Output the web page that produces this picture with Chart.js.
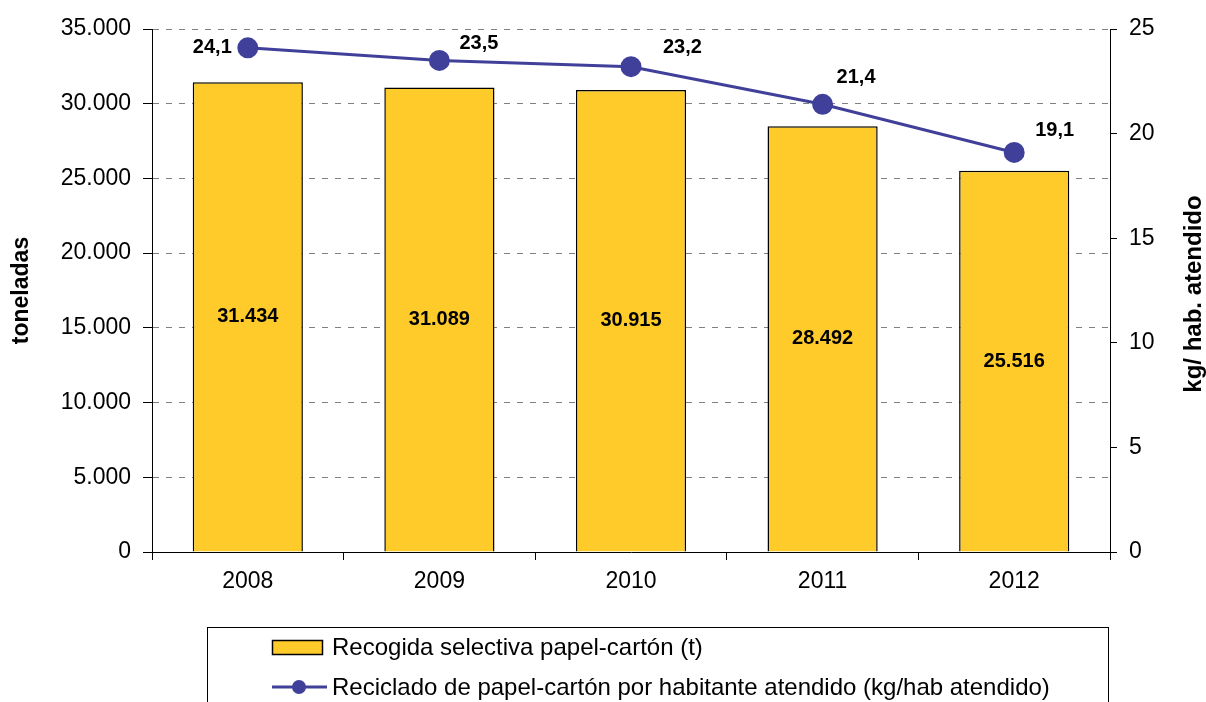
<!DOCTYPE html>
<html>
<head>
<meta charset="utf-8">
<script src="https://cdn.jsdelivr.net/npm/chart.js@4/dist/chart.umd.min.js"></script>
<style>
  html, body { margin: 0; padding: 0; background: #fff; }
  #wrap { width: 1206px; height: 702px; }
</style>
</head>
<body>
<div id="wrap"><canvas id="grafico"></canvas></div>
<script>
// datos
var years = ["2008", "2009", "2010", "2011", "2012"];
var toneladas = [31434, 31089, 30915, 28492, 25516];
var kgHab = [24.1, 23.5, 23.2, 21.4, 19.1];
var serieBarras = "Recogida selectiva papel-cartón (t)";
var serieLinea = "Reciclado de papel-cartón por habitante atendido (kg/hab atendido)";

var amarillo = "#FFCB2B";
var azul = "#40409A";
var fuente = "'Liberation Sans', Arial, sans-serif";

function miles(n) {
  return String(n).replace(/\B(?=(\d{3})+(?!\d))/g, ".");
}
function coma(n) {
  return n.toFixed(1).replace(".", ",");
}

// desplazamiento de las etiquetas de la linea [dx, dy, align]
var offLinea = [[-16, 0, "right"], [20, -17, "left"], [32, -19, "left"], [14, -27, "left"], [21, -22, "left"]];

var etiquetas = {
  id: "etiquetas",
  afterDatasetsDraw: function(chart) {
    var ctx = chart.ctx;
    ctx.save();
    ctx.fillStyle = "#000";
    ctx.font = "bold 20px " + fuente;
    ctx.textBaseline = "middle";
    var mb = chart.getDatasetMeta(0);
    mb.data.forEach(function(bar, i) {
      ctx.textAlign = "center";
      ctx.fillText(miles(toneladas[i]), bar.x, (bar.y + bar.base) / 2);
    });
    var ml = chart.getDatasetMeta(1);
    ml.data.forEach(function(pt, i) {
      var o = offLinea[i];
      ctx.textAlign = o[2];
      ctx.fillText(coma(kgHab[i]), pt.x + o[0], pt.y + o[1]);
    });
    ctx.restore();
  },
  afterDraw: function(chart) {
    var ctx = chart.ctx;
    ctx.save();
    // titulo eje derecho
    ctx.font = "bold 24px " + fuente;
    ctx.fillStyle = "#000";
    ctx.textAlign = "center";
    ctx.textBaseline = "middle";
    ctx.translate(1194, 294);
    ctx.rotate(-Math.PI / 2);
    ctx.fillText("kg/ hab. atendido", 0, 0);
    ctx.restore();

    // leyenda
    ctx.save();
    ctx.strokeStyle = "#000";
    ctx.lineWidth = 1;
    ctx.strokeRect(207.5, 627.5, 901, 90);
    ctx.fillStyle = amarillo;
    ctx.fillRect(272.5, 640.5, 50, 14);
    ctx.strokeStyle = "#000";
    ctx.lineWidth = 1.5;
    ctx.strokeRect(272.5, 640.5, 50, 14);
    ctx.strokeStyle = azul;
    ctx.lineWidth = 3;
    ctx.beginPath();
    ctx.moveTo(272, 687);
    ctx.lineTo(327, 687);
    ctx.stroke();
    ctx.fillStyle = azul;
    ctx.beginPath();
    ctx.arc(299, 687, 7, 0, Math.PI * 2);
    ctx.fill();
    ctx.fillStyle = "#000";
    ctx.font = "24px " + fuente;
    ctx.textAlign = "left";
    ctx.textBaseline = "middle";
    ctx.fillText(chart.data.datasets[0].label, 332, 648);
    ctx.fillText(chart.data.datasets[1].label, 332, 688);
    ctx.restore();
  }
};

var ctx = document.getElementById("grafico").getContext("2d");
var grafico = new Chart(ctx, {
  type: "bar",
  data: {
    labels: years,
    datasets: [
      {
        type: "bar",
        label: serieBarras,
        data: toneladas,
        yAxisID: "y",
        backgroundColor: amarillo,
        borderColor: "#000",
        borderWidth: 1.5,
        barPercentage: 0.575,
        categoryPercentage: 1,
        order: 2
      },
      {
        type: "line",
        label: serieLinea,
        data: kgHab,
        yAxisID: "y1",
        borderColor: azul,
        backgroundColor: azul,
        borderWidth: 3,
        pointRadius: 9,
        pointHoverRadius: 9,
        tension: 0,
        order: 1
      }
    ]
  },
  options: {
    responsive: true,
    maintainAspectRatio: false,
    animation: false,
    layout: { padding: { top: 29, left: 0, right: 0, bottom: 0 } },
    plugins: {
      legend: { display: false },
      tooltip: { enabled: false }
    },
    scales: {
      x: {
        offset: true,
        grid: { display: true, offset: true, drawOnChartArea: false, color: "#000", tickLength: 8 },
        border: { color: "#000", width: 1 },
        ticks: { color: "#000", font: { family: fuente, size: 23 }, padding: 8 },
        afterFit: function(s) { s.height = 150; }
      },
      y: {
        position: "left",
        min: 0,
        max: 35000,
        ticks: {
          stepSize: 5000,
          color: "#000",
          padding: 12,
          font: { family: fuente, size: 23 },
          callback: function(v) { return miles(v); }
        },
        grid: { color: "#808080", tickColor: "#000", tickLength: 9, lineWidth: 1 },
        border: { color: "#000", width: 1, dash: [6, 7] },
        title: {
          display: true,
          text: "toneladas",
          color: "#000",
          font: { family: fuente, size: 23, weight: "bold" },
          padding: { top: 8, bottom: 0 }
        },
        afterFit: function(s) { s.width = 152; }
      },
      y1: {
        position: "right",
        min: 0,
        max: 25,
        ticks: {
          stepSize: 5,
          color: "#000",
          padding: 12,
          font: { family: fuente, size: 23 }
        },
        grid: { drawOnChartArea: false, color: "#000", tickLength: 7 },
        border: { color: "#000", width: 1 },
        afterFit: function(s) { s.width = 96; }
      }
    }
  },
  plugins: [etiquetas]
});
</script>
</body>
</html>
